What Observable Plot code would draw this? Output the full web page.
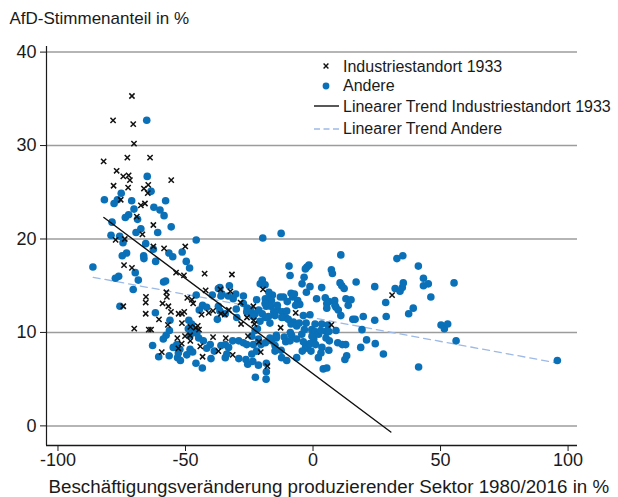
<!DOCTYPE html>
<html><head><meta charset="utf-8">
<script src="https://cdn.jsdelivr.net/npm/d3@7"></script>
<script src="https://cdn.jsdelivr.net/npm/@observablehq/plot@0.6"></script>
<style>body{margin:0;background:#fff;font-family:"Liberation Sans",Arial,sans-serif}</style>
</head><body><div id="wrap" style="position:relative;width:618px;height:497px"></div>
<script>
const yTitle = "AfD-Stimmenanteil in %";
const xTitle = "Beschäftigungsveränderung produzierender Sektor 1980/2016 in %";
const xTicks = [-100, -50, 0, 50, 100];
const yTicks = [0, 10, 20, 30, 40];
const xDomain = [-104.5, 103.7];
const yDomain = [-2.1, 40.6];
const seriesNames = ["Industriestandort 1933", "Andere", "Linearer Trend Industriestandort 1933", "Linearer Trend Andere"];

// Industriestandort 1933 [x, y]
const indPoints = [
[-71,35.3],[-78.4,32.7],[-70.5,32.3],[-70.2,30.2],[-82.1,28.3],[-72.8,28.7],[-63.9,28.7],[-77,27.3],
[-74.4,26.7],[-72.3,26.8],[-71.8,26.3],[-55.6,26.3],[-78.2,25.7],[-72.5,25.5],[-64.6,25.8],[-66.3,25.4],
[-64.8,24.9],[-75.4,24.2],[-67.5,23.6],[-65.9,23.8],[-69.1,22.4],[-62.6,21.5],[-66.9,20.5],[-77.4,19.9],
[-73.8,20.0],[-62.6,19.2],[-58.4,19.0],[-50.1,19.2],[-74.1,17.2],[-71,16.9],[-53.7,16.4],[-50.6,16.1],
[-42.5,16.3],[-31.8,16.2],[-42.1,14.5],[-36.3,14.6],[-32.4,14.4],[-19.6,14.6],[-57.5,14.3],[-57.3,13.8],
[-65.5,13.8],[-65.6,13.2],[-49.3,13.7],[-47.5,13.5],[-47,13.1],[-59,13.1],[-56.7,12.8],[-74.4,12.8],
[-28.4,13.2],[-23.4,12.8],[-55.7,12.2],[-65.6,12.0],[-52.7,12.0],[-51.4,12.0],[-50.5,12.2],[-40.9,12.1],
[-39.2,12.3],[-36.1,12.0],[-34.6,11.9],[-33,12.4],[-43.7,11.9],[-6.8,12.1],[-60.4,11.4],[-56.9,10.8],
[-51.4,11.0],[-48.1,10.6],[-46,10.5],[-45.2,10.7],[-44.7,10.3],[-70.1,10.4],[-64.4,10.3],[-63.5,10.3],
[-28.2,10.9],[-25.9,11.6],[-23.3,11.3],[-23,10.9],[-12.7,10.5],[7.2,10.8],[-53.2,9.4],[-50.2,9.6],
[-48.2,9.7],[-48.1,9.1],[-39.2,9.5],[-34.2,9.4],[-25.5,9.6],[-21.2,9.0],[-51.5,8.8],[-52.8,8.3],
[-44.2,8.5],[-37.1,8.0],[-59.3,7.9],[-43.3,7.4],[-31.5,7.6],[-20.5,7.9],[-17.9,6.4],[31,14.0]
];

// Andere [x, y]
const andPoints = [
[-65.2,32.7],[-65,26.7],[-75.2,24.9],[-63.5,25.1],[-81.8,24.2],[-76.7,24.2],[-78,23.8],[-71.1,24.1],
[-57.8,24.1],[-70.2,23.2],[-62.4,23.4],[-60,23.1],[-72.3,22.6],[-73.6,22.3],[-58.4,22.5],[-68.8,22.1],
[-78.8,21.8],[-55.6,21.3],[-67.5,21.1],[-69.4,20.7],[-60.9,20.7],[-79.2,20.4],[-75.8,20.3],[-45.8,19.9],
[-74.5,19.6],[-65.6,19.5],[-62.6,18.9],[-61.7,17.6],[-73.1,18.5],[-74.8,18.2],[-66.4,18.2],[-66.3,17.9],
[-86.3,17.0],[-69.7,16.4],[-76.2,16.0],[-77.5,15.8],[-68.5,15.6],[-70.5,14.6],[-75.7,12.8],[-61.8,12.1],
[-62.9,8.6],[-60.5,7.4],[-56.5,18.5],[-55,18.1],[-51.3,18.6],[-49.7,17.6],[-48.4,16.9],[-58.6,15.4],
[-57.8,15.5],[-45.8,14.0],[-39.5,14.0],[-37.1,14.7],[-35.7,14.1],[-32.8,15.0],[-56.1,11.3],[-56.4,7.5],
[-53.1,7.3],[-52,7.0],[-45.9,6.7],[-43.4,6.2],[-40,7.2],[-49.5,7.6],[-48.2,8.2],[-47.2,7.9],
[-23.6,6.9],[-21.4,6.5],[-18.3,5.8],[-22.6,5.2],[-18.4,5.0],[4.0,6.1],[5.4,6.2],[-19.7,20.1],
[-12.5,20.6],[10.9,18.3],[-9.4,17.1],[-2.4,17.0],[-1.6,17.2],[-3,16.8],[-9,16.1],[7.2,16.7],
[7.6,16.3],[-3.5,15.9],[10.6,15.3],[11.3,15.0],[12.2,14.7],[-20.7,15.2],[-19.9,15.6],[-4.3,15.2],
[-2.6,14.3],[-8.6,14.2],[-8,13.8],[-17.3,14.3],[-15.9,14.0],[-17.6,13.6],[-16.3,13.4],[-18.7,13.6],
[-12.8,13.8],[-11.6,13.8],[1.4,13.6],[4.8,13.7],[6.2,13.3],[5.4,13.1],[8.5,13.4],[9,12.7],
[9.9,12.4],[5.4,12.6],[12.9,13.6],[-31.3,13.6],[-10.1,13.3],[-6,13.4],[-5.2,13.0],[-6.8,12.9],
[-27.3,13.1],[-25.8,12.6],[-24.4,12.4],[-22.7,12.0],[-24,11.9],[-21.3,12.4],[-19.9,12.0],[-18.3,12.8],
[-16.6,12.8],[-15.4,12.2],[-17.5,11.7],[-18.7,11.6],[-16.9,11.0],[-13.8,12.4],[-12,12.2],[-10.3,12.3],
[-10.7,11.6],[-12.2,11.6],[-7.7,11.1],[-8.6,10.9],[-6.4,10.7],[-8.9,10.0],[-8.4,9.7],[-4.4,9.8],
[-3.4,10.3],[-0.5,10.3],[0.7,10.1],[0.3,9.3],[-2.9,8.5],[-2.2,8.3],[2.2,9.8],[3.5,8.4],
[5.1,10.1],[6.2,10.1],[9.7,8.9],[12.8,8.7],[9,10.2],[-14.4,9.7],[-14.4,9.4],[-16.2,9.1],
[-14.9,8.6],[-11.3,9.5],[-10.7,9.0],[-21.4,9.3],[-20.4,8.7],[-23.4,8.7],[-18.7,8.9],[-24,7.7],
[-12.5,8.1],[-18.3,6.7],[12.5,7.1],[-36.5,14.8],[-36.1,13.9],[-33.2,13.9],[-30.3,14.1],[-27.3,13.9],
[-43.3,12.9],[-41.7,12.7],[-44.6,12.4],[-37.1,12.8],[-37.5,11.4],[-36.5,12.3],[-34.4,12.0],[-30.1,12.5],
[-29.9,11.6],[-26,12.2],[-23.4,11.7],[-48.7,11.3],[-47.6,10.9],[-48.9,10.4],[-46.5,10.2],[-48.2,9.7],
[-45.6,9.9],[-44.8,9.4],[-43,9.1],[-40.3,8.7],[-41.7,8.3],[-38.7,8.0],[-36.1,8.6],[-34.4,8.7],
[-33.1,8.4],[-31.5,9.1],[-29.1,9.1],[-33.8,7.7],[-34.4,7.3],[-29.1,7.2],[-52.8,7.8],[-22.1,8.0],
[-25.6,6.6],[-26.3,7.1],[-27.3,8.9],[-26,8.7],[-24,9.6],[-22.7,10.2],[-21.8,10.4],[-57.6,9.7],
[-56.3,10.2],[-58.7,9.3],[-53.4,8.7],[-54.8,8.4],[-52.2,8.2],[-1.2,14.9],[-7.3,14.1],[3.4,14.8],
[-18.8,15.1],[-22.1,13.5],[-18.8,13.1],[-14,12.9],[8.6,12.9],[10.9,11.8],[13.8,12.9],[-1.2,11.9],
[-3.8,11.8],[-2.7,11.0],[-5.4,11.0],[-9.7,11.4],[-14.9,11.8],[-20.8,11.2],[0.8,10.9],[3.4,10.9],
[5.8,10.8],[3,10.2],[-0.4,9.6],[5.1,9.4],[6.4,9.1],[11.5,8.7],[13.2,7.5],[-16.9,9.4],
[-9,9.1],[-6.4,9.3],[-3.8,9.0],[-1.2,8.8],[1,8.7],[-4.2,8.0],[-0.8,8.0],[3.1,7.8],
[6.2,8.1],[-14.9,8.0],[-12.3,7.3],[-10.3,7.0],[-6.4,7.3],[2.1,7.3],[32.9,17.9],[35.2,18.2],
[41.3,17.1],[16.9,15.4],[24.2,14.9],[32.2,14.7],[34.1,14.4],[35,14.8],[35.4,15.3],[43.3,15.8],
[43.3,15.0],[45.2,15.2],[55.3,15.3],[46.2,13.8],[14.9,13.5],[28.5,13.2],[39.3,12.6],[37.5,12.0],
[15.6,11.4],[16.5,11.4],[19.7,11.7],[24.2,11.3],[28.7,11.7],[50.2,10.8],[51.5,10.4],[52.8,10.9],
[19.2,10.3],[56.1,9.1],[21,9.2],[24.4,8.8],[18.7,8.4],[27.6,7.7],[41.4,6.3],[95.8,7.0]
];

// Linear trend endpoints [x, y]
const trendInd = [[-82, 22.3], [30.5, -0.66]];
const trendAnd = [[-86.2, 15.9], [95.8, 6.73]];

const colBlue = "#0a70b8";
const colDash = "#9db9e6";
const colInk = "#1a1a1a";
const font = '"Liberation Sans", Arial, sans-serif';

const chart = Plot.plot({
  width: 618, height: 497,
  marginLeft: 46, marginRight: 41, marginTop: 46, marginBottom: 52,
  style: {fontFamily: font, fontSize: "16px", color: colInk, background: "#fff", overflow: "visible"},
  x: {domain: xDomain},
  y: {domain: yDomain},
  marks: [
    Plot.gridY(yTicks, {stroke: "#9c9c9c", strokeOpacity: 1, strokeWidth: 1.5}),
    Plot.ruleX([xDomain[0]], {stroke: colInk, strokeWidth: 1.2}),
    Plot.ruleY([yDomain[0]], {stroke: colInk, strokeWidth: 1.5}),
    Plot.axisY(yTicks, {tickSize: 6, tickPadding: 4, label: null, tickFormat: d => String(d), fontSize: 18, stroke: colInk}),
    Plot.axisX(xTicks, {tickSize: 6, tickPadding: 2, label: null, tickFormat: d => String(d), fontSize: 18, stroke: colInk}),
    Plot.line(trendAnd, {x: d => d[0], y: d => d[1], stroke: colDash, strokeWidth: 1.3, strokeDasharray: "7,5"}),
    Plot.dot(andPoints, {x: d => d[0], y: d => d[1], r: 3.8, fill: colBlue}),
    Plot.dot(indPoints, {x: d => d[0], y: d => d[1], symbol: "times", r: 2.5, stroke: "#111", strokeWidth: 1.5}),
    Plot.line(trendInd, {x: d => d[0], y: d => d[1], stroke: "#111", strokeWidth: 1.4}),
    Plot.text([yTitle], {text: d => d, frameAnchor: "top-left", dx: -37, dy: -28, textAnchor: "start", lineAnchor: "middle", fontSize: 17, fill: colInk}),
    Plot.text([xTitle], {text: d => d, frameAnchor: "bottom-left", dx: 2, dy: 41, textAnchor: "start", lineAnchor: "middle", fontSize: 18.8, fill: colInk})
  ]
});
const wrap = document.getElementById("wrap");
wrap.appendChild(chart);

// Legend overlay (inside plot, top right)
const legendRows = [66, 85.5, 106, 128.5];
const ns = "http://www.w3.org/2000/svg";
seriesNames.forEach((name, i) => {
  const cy = legendRows[i];
  const svg = document.createElementNS(ns, "svg");
  svg.setAttribute("width", 32); svg.setAttribute("height", 12);
  svg.style.cssText = `position:absolute;left:310px;top:${cy - 6}px;overflow:visible`;
  let el;
  if (i === 0) {
    el = document.createElementNS(ns, "path");
    el.setAttribute("d", "M13.6,3.6L18.4,8.4M18.4,3.6L13.6,8.4");
    el.setAttribute("stroke", "#111"); el.setAttribute("stroke-width", 1.4);
  } else if (i === 1) {
    el = document.createElementNS(ns, "circle");
    el.setAttribute("cx", 16); el.setAttribute("cy", 6); el.setAttribute("r", 3.4);
    el.setAttribute("fill", colBlue);
  } else {
    el = document.createElementNS(ns, "line");
    el.setAttribute("x1", 4); el.setAttribute("x2", 29); el.setAttribute("y1", 6); el.setAttribute("y2", 6);
    el.setAttribute("stroke", i === 2 ? "#111" : colDash);
    el.setAttribute("stroke-width", i === 2 ? 1.4 : 1.3);
    if (i === 3) el.setAttribute("stroke-dasharray", "6,3.5");
  }
  svg.appendChild(el);
  wrap.appendChild(svg);
  const t = document.createElement("div");
  t.textContent = name;
  t.style.cssText = `position:absolute;left:343px;top:${cy - 9.5}px;font:16px/19px ${font};color:${colInk};white-space:nowrap`;
  wrap.appendChild(t);
});
</script></body></html>
